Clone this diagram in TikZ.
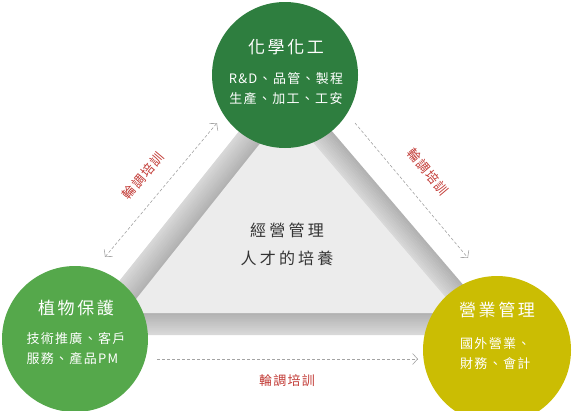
\documentclass[tikz,border=0pt]{standalone}
\usepackage{fontspec}
\setmainfont{Noto Sans CJK TC}
\newfontfamily\cjkTitle{Noto Sans CJK TC}[LetterSpace=15]
\newfontfamily\cjkBody{Noto Sans CJK TC}[LetterSpace=10]
\newfontfamily\cjkCenter{Noto Sans CJK TC}[LetterSpace=20]
\usetikzlibrary{calc,arrows.meta}
\definecolor{cTop}{HTML}{2E7E3F}
\definecolor{cLeft}{HTML}{55A84B}
\definecolor{cRight}{HTML}{CBBD03}
\definecolor{inner}{HTML}{ECECEC}
\definecolor{bandA}{HTML}{D8D8D8}
\definecolor{bandB}{HTML}{B2B2B2}
\definecolor{lblred}{HTML}{C23B36}
\definecolor{dashgray}{HTML}{A3A3A3}
\definecolor{ctext}{HTML}{333333}
\tikzset{
  bubble/.style={circle, inner sep=0pt, draw=none},
  ttl/.style={text=white, font=\cjkTitle\fontsize{17}{20}\selectfont},
  bodytxt/.style={text=white, font=\cjkBody\fontsize{13}{20.5}\selectfont},
  lbl/.style={text=lblred, font=\cjkBody\fontsize{13}{16}\selectfont, inner sep=0pt},
  ctr/.style={text=ctext, font=\cjkCenter\fontsize{16}{28}\selectfont, align=center},
  flow/.style={draw=dashgray, line width=0.6pt, dash pattern=on 3pt off 2pt},
  tip/.style={-{Straight Barb[length=5pt,width=11pt,line width=0.6pt]}},
  tips/.style={{Straight Barb[length=5pt,width=11pt,line width=0.6pt]}-{Straight Barb[length=5pt,width=11pt,line width=0.6pt]}}
}
\begin{document}
\begin{tikzpicture}[x=1pt,y=-1pt]
\useasboundingbox (0,0) rectangle (572,410);
% triangle geometry
\coordinate (O1) at (284,75);
\coordinate (O2) at (76,335);
\coordinate (O3) at (506,335);
\coordinate (I1) at (286,111);
\coordinate (I2) at (125,313);
\coordinate (I3) at (459,313);
% left band: light outside, dark inside
\foreach \i in {0,...,11} {
  \pgfmathsetmacro\ta{\i/12}
  \pgfmathsetmacro\tb{(\i+1)/12+0.02}
  \pgfmathtruncatemacro\p{100*\i/11}
  \fill[bandB!\p!bandA] ($(O1)!\ta!(I1)$) -- ($(O2)!\ta!(I2)$) -- ($(O2)!\tb!(I2)$) -- ($(O1)!\tb!(I1)$) -- cycle;
}
% right band: dark outside, light inside
\foreach \i in {0,...,11} {
  \pgfmathsetmacro\ta{\i/12}
  \pgfmathsetmacro\tb{(\i+1)/12+0.02}
  \pgfmathtruncatemacro\p{100*\i/11}
  \fill[bandA!\p!bandB] ($(O1)!\ta!(I1)$) -- ($(O3)!\ta!(I3)$) -- ($(O3)!\tb!(I3)$) -- ($(O1)!\tb!(I1)$) -- cycle;
}
% bottom band: light at bottom, dark at top
\foreach \i in {0,...,11} {
  \pgfmathsetmacro\ta{\i/12}
  \pgfmathsetmacro\tb{(\i+1)/12+0.02}
  \pgfmathtruncatemacro\p{100*\i/11}
  \fill[bandB!\p!bandA] ($(O2)!\ta!(I2)$) -- ($(O3)!\ta!(I3)$) -- ($(O3)!\tb!(I3)$) -- ($(O2)!\tb!(I2)$) -- cycle;
}
\fill[inner] (I1) -- (I2) -- (I3) -- cycle;
% circles
\node[bubble, fill=cTop, minimum size=146pt] (chem) at (285,75) {};
\node[bubble, fill=cLeft, minimum size=146pt] (plant) at (75,339) {};
\node[bubble, fill=cRight, minimum size=148pt] (biz) at (497,350) {};
% circle texts
\node[ttl] (chemT) at (286,47) {化學化工};
\node[bodytxt, align=center] (chemB) at (286,88.5) {R\&D、品管、製程\\生產、加工、工安};
\node[ttl] (plantT) at (76,308) {植物保護};
\node[bodytxt, align=left] (plantB) at (76,348.5) {技術推廣、客戶\\服務、產品PM};
\node[ttl] (bizT) at (497,310) {營業管理};
\node[bodytxt, align=left, anchor=west, inner sep=0pt] (bizB) at (460,353.5) {國外營業、\\財務、會計};
% centre text
\node[ctr] (core) at (287,244) {經營管理\\人才的培養};
% connectors
\coordinate (l1) at (105,257);
\coordinate (l2) at (217,123);
\coordinate (r1) at (355,123);
\coordinate (r2) at (468,258);
\coordinate (b1) at (157,359);
\coordinate (b2) at (418,359);
\draw[flow, tips] (l1) -- (l2);
\draw[flow, tip] (r1) -- (r2);
\draw[flow, tip] (b1) -- (b2);
% labels
\node[lbl, rotate=50] (lblL) at (143,176) {輪調培訓};
\node[lbl, rotate=-50] (lblR) at (428,172) {輪調培訓};
\node[lbl] (lblB) at (287,381) {輪調培訓};
\end{tikzpicture}
\end{document}
